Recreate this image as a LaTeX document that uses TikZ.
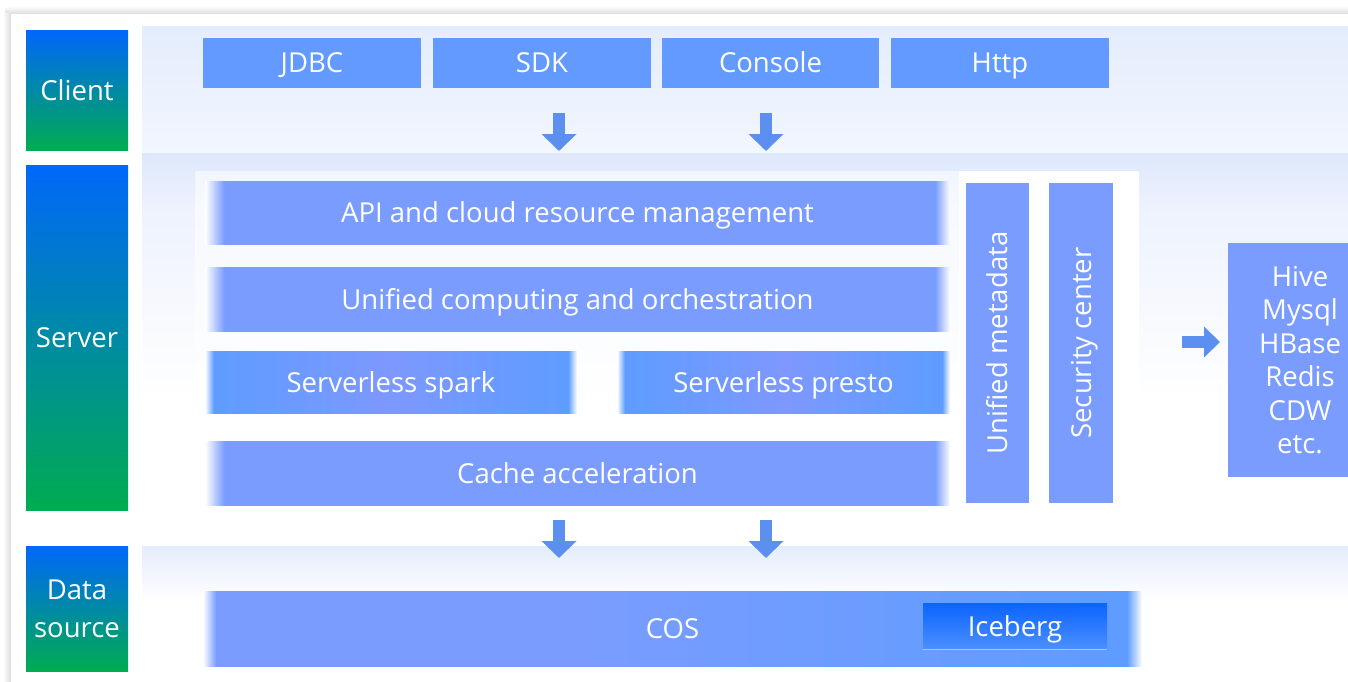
\documentclass[tikz,border=0pt]{standalone}
\usepackage{fontspec}
\setmainfont{Open Sans}
\usetikzlibrary{arrows.meta}
\definecolor{rowc}{HTML}{7A9CFF}
\definecolor{rowl}{HTML}{5E9CFF}
\definecolor{rowm}{HTML}{7E98FF}
\definecolor{cli}{HTML}{629AFF}
\definecolor{lblt}{HTML}{0068FA}
\definecolor{lblb}{HTML}{00AC50}
\definecolor{arr}{HTML}{5B8FF0}
\definecolor{bandt}{HTML}{E4EDFD}
\definecolor{bandb}{HTML}{F2F6FE}
\definecolor{sbandt}{HTML}{DDE8FB}
\definecolor{sbandm}{HTML}{EDF2FD}
\definecolor{shad}{HTML}{DCDCDC}
\definecolor{icet}{HTML}{0A64FF}
\definecolor{iceb}{HTML}{4C8FFF}
\pgfdeclarehorizontalshading{rowfade}{100bp}{color(0bp)=(white); color(25bp)=(white); color(26.3bp)=(rowc); color(74bp)=(rowc); color(75bp)=(white); color(100bp)=(white)}
\pgfdeclarehorizontalshading{pillfade}{100bp}{color(0bp)=(white); color(25bp)=(white); color(26.2bp)=(rowl); color(50bp)=(rowm); color(73.8bp)=(rowl); color(75bp)=(white); color(100bp)=(white)}
\pgfdeclarehorizontalshading{cosfade}{100bp}{color(0bp)=(white); color(25bp)=(white); color(25.7bp)=(rowc); color(45bp)=(rowc); color(74.2bp)=(rowl); color(75bp)=(white); color(100bp)=(white)}
\tikzset{
  txt/.style={text=white,font=\fontsize{27.5}{33.5}\selectfont,align=center,inner sep=0pt},
  one/.style={text height=20pt,text depth=0pt},
  lbl/.style={txt,top color=lblt,bottom color=lblb,minimum width=102pt},
  clibox/.style={txt,one,fill=cli,minimum height=50pt},
  rowbox/.style={txt,one,shading=rowfade,minimum height=63pt},
  pillbox/.style={txt,one,shading=pillfade,minimum height=62pt},
  vbox/.style={txt,one,fill=rowc,minimum width=320pt,minimum height=63pt,rotate=90},
  blockarrow/.style={draw=arr,line width=12pt,line cap=butt,-{Triangle[width=34pt,length=17pt]}},
}
\begin{document}
\begin{tikzpicture}[x=1pt,y=-1pt]
\useasboundingbox (0,0) rectangle (1348,682);
% page and card with soft shadow
\fill[white] (0,0) rectangle (1348,682);
\shade[top color=white,bottom color=shad] (5,6) rectangle (1360,14);
\shade[left color=white,right color=shad] (3,14) rectangle (11,690);
\fill[white] (11,14) rectangle (1360,690);
% bands
\shade[top color=bandt,bottom color=bandb] (142,27) rectangle (1360,153);
\shade[top color=sbandt,bottom color=sbandm] (142,153) rectangle (1360,205);
\shade[top color=sbandm,bottom color=white] (142,205) rectangle (1360,400);
\shade[top color=bandt,bottom color=white] (142,546) rectangle (1360,602);
\fill[white,opacity=0.55] (195,171) rectangle (959,515);
\fill[white] (959,171) rectangle (1139,512);
% layer labels
\node[lbl,one,minimum height=119pt] (client) at (77,90.5) {Client};
\node[lbl,one,minimum height=345pt] (server) at (77,337.5) {Server};
\node[lbl,minimum height=125pt] (datasrc) at (77,608.5) {Data\\[4.5pt]source};
% client boxes
\node[clibox,minimum width=218pt] (jdbc) at (312,63) {JDBC};
\node[clibox,minimum width=218pt] (sdk) at (542,63) {SDK};
\node[clibox,minimum width=217pt] (console) at (770.5,63) {Console};
\node[clibox,minimum width=218pt] (http) at (1000,63) {Http};
% server rows
\node[rowbox,minimum width=745pt] (api) at (577.5,212.5) {API and cloud resource management};
\node[rowbox,minimum width=745pt,minimum height=64pt] (orch) at (577.5,299) {Unified computing and orchestration};
\node[pillbox,minimum width=372pt] (spark) at (391,382) {Serverless spark};
\node[pillbox,minimum width=333pt] (presto) at (783.5,382) {Serverless presto};
\node[rowbox,minimum width=745pt,minimum height=64pt] (cache) at (577.5,473) {Cache acceleration};
% vertical boxes
\node[vbox] (meta) at (997.5,343) {Unified metadata};
\node[vbox,minimum height=64pt] (sec) at (1081,343) {Security center};
% external sources
\node[txt,fill=rowc,minimum width=144pt,minimum height=234pt] (ext) at (1300,360) {Hive\\Mysql\\HBase\\Redis\\CDW\\etc.};
% data source
\node[txt,one,shading=cosfade,minimum width=939pt,minimum height=75pt] (cos) at (672.5,628.5) {COS};
\node[txt,one,top color=icet,bottom color=iceb,minimum width=184pt,minimum height=46pt] (ice) at (1015,626) {Iceberg};
\draw[white,opacity=0.5,line width=1pt] (ice.south west) -- (ice.south east);
% arrows
\coordinate (a1s) at (559,113); \coordinate (a1e) at (559,151);
\coordinate (a2s) at (766,113); \coordinate (a2e) at (766,151);
\coordinate (a3s) at (559,520); \coordinate (a3e) at (559,558);
\coordinate (a4s) at (766,520); \coordinate (a4e) at (766,558);
\coordinate (a5s) at (1182,342); \coordinate (a5e) at (1220,342);
\draw[blockarrow] (a1s) -- (a1e);
\draw[blockarrow] (a2s) -- (a2e);
\draw[blockarrow] (a3s) -- (a3e);
\draw[blockarrow] (a4s) -- (a4e);
\draw[blockarrow,-{Triangle[width=30pt,length=16pt]}] (a5s) -- (a5e);
\end{tikzpicture}
\end{document}
